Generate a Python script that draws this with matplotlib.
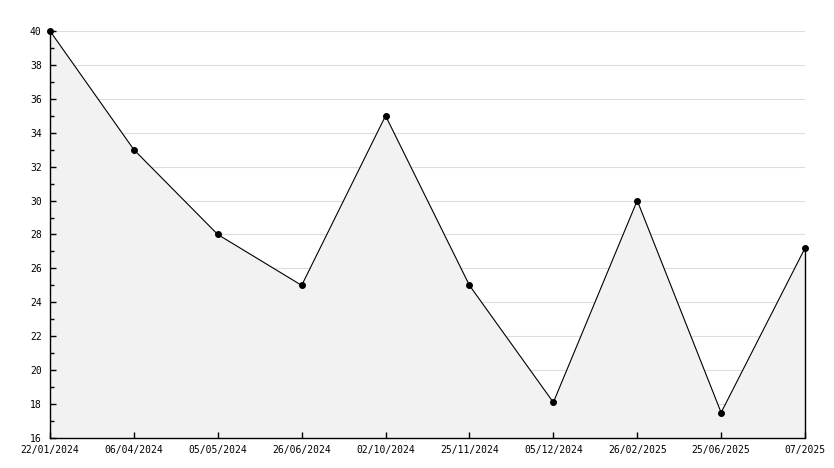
import numpy as np
import matplotlib.pyplot as plt

dates = ["22/01/2024", "06/04/2024", "05/05/2024", "26/06/2024", "02/10/2024",
         "25/11/2024", "05/12/2024", "26/02/2025", "25/06/2025", "07/2025"]
values = [40, 33, 28, 25, 35, 25, 18.1, 30, 17.5, 27.2]

plt.rcParams['font.family'] = 'DejaVu Sans Mono'
plt.rcParams['font.size'] = 7

fig = plt.figure(figsize=(8.34, 4.68), dpi=100)
ax = fig.add_axes([0.05995, 0.0641, 0.9053, 0.8697])

x = np.arange(len(values))
yticks = np.arange(16, 41, 2)

# grid drawn by hand so it sits under the fill while the ticks stay on top
for yv in yticks[1:]:
    ax.axhline(yv, color="#dddddd", lw=0.8, zorder=0)
ax.fill_between(x, 16, values, color="#f2f2f2", lw=0, zorder=1)
ax.vlines(x[-1], 16, values[-1], color="black", lw=1.0, zorder=4, clip_on=False)
ax.plot(x, values, color="black", lw=0.8, marker="o", ms=4, zorder=5, clip_on=False)

ax.set_xlim(x[0], x[-1])
ax.set_ylim(16, 40)
ax.set_xticks(x)
ax.set_xticklabels(dates)
ax.set_yticks(yticks)
ax.set_yticks(np.arange(16, 41, 1), minor=True)

ax.tick_params(axis="both", which="both", direction="in", color="black", width=1.0)
ax.tick_params(axis="y", which="major", length=4, pad=6)
ax.tick_params(axis="y", which="minor", length=3)
ax.tick_params(axis="x", length=4, pad=5)

for s in ["top", "right"]:
    ax.spines[s].set_visible(False)
for s in ["left", "bottom"]:
    ax.spines[s].set_linewidth(1.0)

fig.savefig("out.png", dpi=100)
